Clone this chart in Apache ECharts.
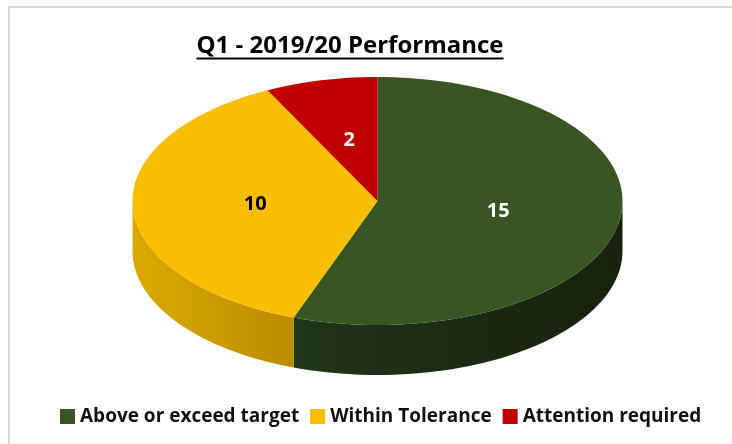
<!DOCTYPE html>
<html>
<head>
<meta charset="utf-8">
<script src="https://cdn.jsdelivr.net/npm/echarts@6/dist/echarts.min.js"></script>
<style>
  html, body { margin: 0; padding: 0; background: #fff; }
  #main { width: 732px; height: 444px; }
</style>
</head>
<body>
<div id="main"></div>
<script>
// data
const categories = ["Above or exceed target", "Within Tolerance", "Attention required"];
const values = [15, 10, 2];
const titleText = "Q1 - 2019/20 Performance";

// look
const topColors = ["#375623", "#FABE00", "#C00000"];
const sideColors = [["#223419", "#17220F"], ["#DDA900", "#BC8B00"], ["#8A0000", "#6A0000"]];
const labelColors = ["#ffffff", "#000000", "#ffffff"];
const font = "'Open Sans', sans-serif";

// pie ellipse geometry
const cx = 377.5, cy = 201, rx = 245, ry = 124, depth = 50;
const total = values.reduce((a, b) => a + b, 0);

function pt(deg, dy) {
  const t = deg * Math.PI / 180;
  return [cx + rx * Math.sin(t), cy - ry * Math.cos(t) + (dy || 0)];
}
function arc(a0, a1, dy) {
  const pts = [];
  const n = Math.max(2, Math.ceil(Math.abs(a1 - a0) / 2));
  for (let i = 0; i <= n; i++) pts.push(pt(a0 + (a1 - a0) * i / n, dy));
  return pts;
}

function makeRender(idx) {
  return function (params, api) {
    let start = 0;
    for (let i = 0; i < idx; i++) start += values[i];
    const a0 = start / total * 360;
    const a1 = a0 + api.value(0) / total * 360;
    const children = [];
    // visible front side (angles 90..270)
    const s = Math.max(a0, 90), e = Math.min(a1, 270);
    if (e > s) {
      const top = arc(s, e, 0);
      const bottom = arc(e, s, depth);
      children.push({
        type: "polygon",
        shape: {points: top.concat(bottom)},
        style: {
          fill: new echarts.graphic.LinearGradient(0, 0, 1, 0, [
            {offset: 0, color: sideColors[idx][0]},
            {offset: 1, color: sideColors[idx][1]}
          ])
        }
      });
    }
    children.push({
      type: "polygon",
      shape: {points: [[cx, cy]].concat(arc(a0, a1, 0))},
      style: {fill: topColors[idx]}
    });
    const mid = pt((a0 + a1) / 2, 0);
    children.push({
      type: "text",
      x: cx + (mid[0] - cx) * 0.5,
      y: cy + (mid[1] - cy) * 0.5,
      style: {
        text: String(api.value(0)),
        fill: labelColors[idx],
        font: "bold 20px " + font,
        align: "center",
        verticalAlign: "middle"
      }
    });
    return {type: "group", children: children};
  };
}

const cvs = document.createElement("canvas").getContext("2d");
cvs.font = "bold 24px " + font;
const titleW = cvs.measureText(titleText).width;

const chart = echarts.init(document.getElementById("main"));
chart.setOption({
  backgroundColor: "#ffffff",
  animation: false,
  color: topColors,
  legend: {
    data: categories,
    bottom: 13,
    left: 55,
    icon: "rect",
    itemWidth: 15,
    itemHeight: 15,
    itemGap: 11,
    textStyle: {fontFamily: font, fontWeight: "bold", fontSize: 19, color: "#111"}
  },
  graphic: [
    {type: "polyline", shape: {points: [[9, 444], [9, 7], [732, 7]]},
     style: {stroke: "#d9d9d9", lineWidth: 2, fill: null}},
    {type: "text", x: 350, y: 46,
     style: {text: titleText, font: "bold 24px " + font, fill: "#000",
             align: "center", verticalAlign: "middle"}},
    {type: "line", shape: {x1: 350 - titleW / 2, y1: 58.5, x2: 350 + titleW / 2, y2: 58.5},
     style: {stroke: "#000", lineWidth: 2}}
  ],
  series: categories.map((name, i) => ({
    type: "custom",
    name: name,
    coordinateSystem: "none",
    itemStyle: {color: topColors[i]},
    renderItem: makeRender(i),
    data: [[values[i]]]
  }))
});
</script>
</body>
</html>
